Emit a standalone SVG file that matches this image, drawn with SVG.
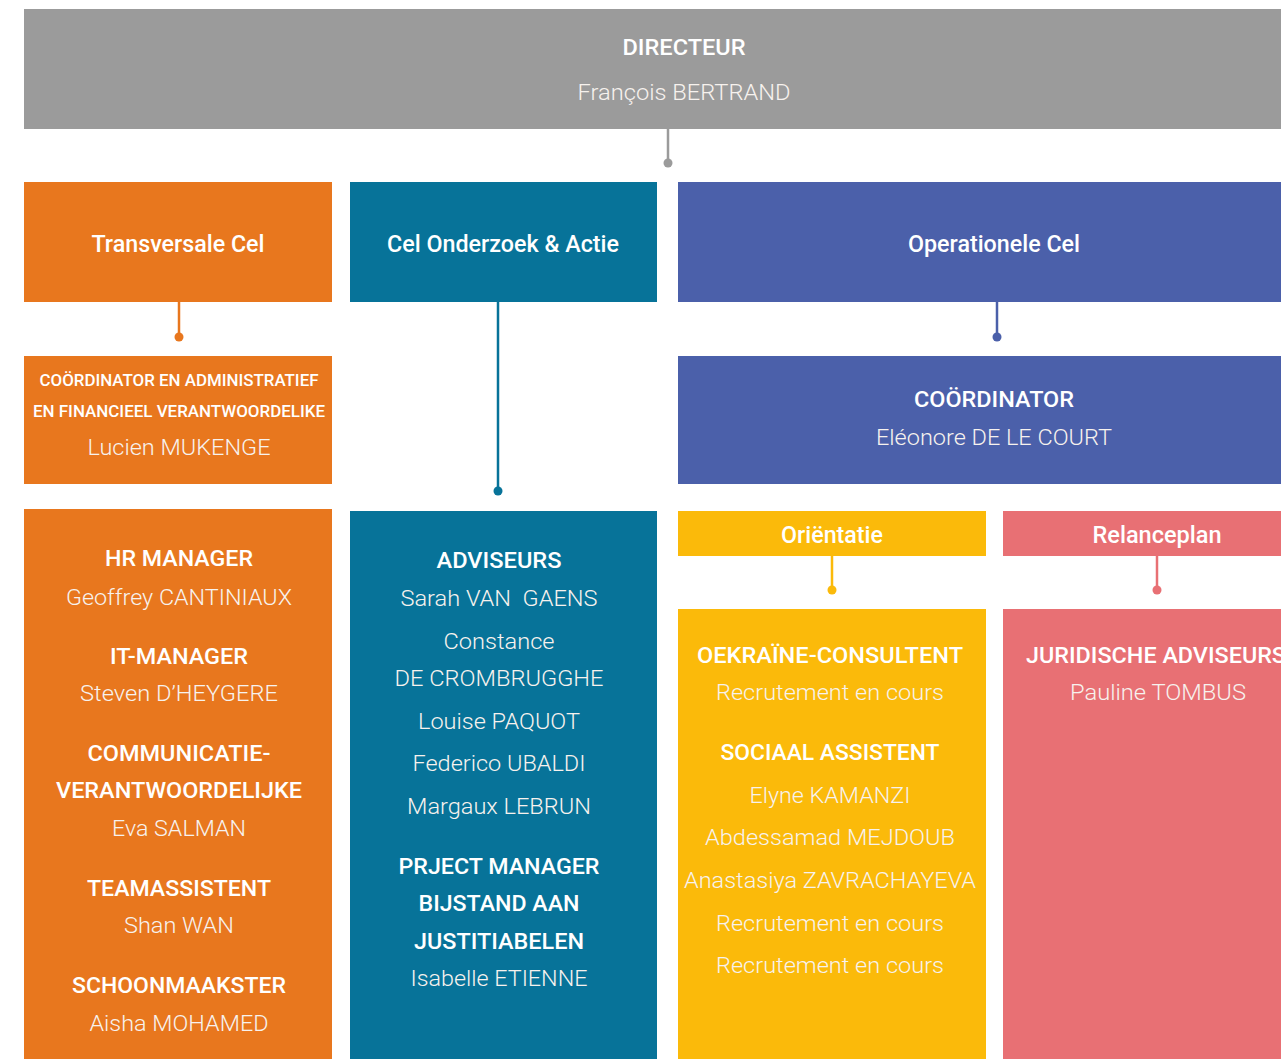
<svg xmlns="http://www.w3.org/2000/svg" width="1281" height="1059" viewBox="0 0 1281 1059">
<style>
text{font-family:Roboto,"Liberation Sans",sans-serif;text-anchor:middle;fill:#fff}
.t{font-size:22px;font-weight:500}
.n{font-size:22px;font-weight:300;fill:#f7f2ee}
.h{font-size:23px;font-weight:500}
.s{font-size:17px;font-weight:500}
.gray{fill:#9b9b9b}.or{fill:#e8771e}.te{fill:#077399}.bl{fill:#4b60aa}.ye{fill:#fbba0a}.pk{fill:#e87074}
</style>
<rect width="1281" height="1059" fill="#fff"/>
<g id="connectors" stroke-width="2.5">
<line x1="668" y1="129" x2="668" y2="162" stroke="#9b9b9b"/><circle cx="668" cy="163" r="4.5" fill="#9b9b9b"/>
<line x1="179" y1="302" x2="179" y2="336" stroke="#e8771e"/><circle cx="179" cy="337" r="4.5" fill="#e8771e"/>
<line x1="498" y1="302" x2="498" y2="490" stroke="#077399"/><circle cx="498" cy="491" r="4.5" fill="#077399"/>
<line x1="997" y1="302" x2="997" y2="336" stroke="#4b60aa"/><circle cx="997" cy="337" r="4.5" fill="#4b60aa"/>
<line x1="832" y1="556" x2="832" y2="589" stroke="#fbba0a"/><circle cx="832" cy="590" r="4.5" fill="#fbba0a"/>
<line x1="1157" y1="556" x2="1157" y2="589" stroke="#e87074"/><circle cx="1157" cy="590" r="4.5" fill="#e87074"/>
</g>
<g id="directeur">
<rect class="gray" x="24" y="9" width="1257" height="120"/>
<text class="t" x="684" y="55" textLength="123" lengthAdjust="spacingAndGlyphs">DIRECTEUR</text>
<text class="n" x="684" y="100" textLength="213" lengthAdjust="spacingAndGlyphs">François BERTRAND</text>
</g>
<g id="transversale">
<rect class="or" x="24" y="182" width="308" height="120"/>
<text class="h" x="178" y="252" textLength="173" lengthAdjust="spacingAndGlyphs">Transversale Cel</text>
</g>
<g id="onderzoek">
<rect class="te" x="350" y="182" width="307" height="120"/>
<text class="h" x="503" y="252" textLength="232" lengthAdjust="spacingAndGlyphs">Cel Onderzoek &amp; Actie</text>
</g>
<g id="operationele">
<rect class="bl" x="678" y="182" width="603" height="120"/>
<text class="h" x="994" y="252" textLength="172" lengthAdjust="spacingAndGlyphs">Operationele Cel</text>
</g>
<g id="coordinator-admin">
<rect class="or" x="24" y="356" width="308" height="128"/>
<text class="s" x="179" y="386" textLength="279" lengthAdjust="spacingAndGlyphs">COÖRDINATOR EN ADMINISTRATIEF</text>
<text class="s" x="179" y="417" textLength="292" lengthAdjust="spacingAndGlyphs">EN FINANCIEEL VERANTWOORDELIKE</text>
<text class="n" x="179" y="455" textLength="183" lengthAdjust="spacingAndGlyphs">Lucien MUKENGE</text>
</g>
<g id="coordinator">
<rect class="bl" x="678" y="356" width="603" height="128"/>
<text class="t" x="994" y="407" textLength="160" lengthAdjust="spacingAndGlyphs">COÖRDINATOR</text>
<text class="n" x="994" y="445" textLength="236" lengthAdjust="spacingAndGlyphs">Eléonore DE LE COURT</text>
</g>
<g id="transversale-staff">
<rect class="or" x="24" y="509" width="308" height="550"/>
<text class="t" x="179" y="566" textLength="148" lengthAdjust="spacingAndGlyphs">HR MANAGER</text>
<text class="n" x="179" y="605" textLength="226" lengthAdjust="spacingAndGlyphs">Geoffrey CANTINIAUX</text>
<text class="t" x="179" y="664" textLength="138" lengthAdjust="spacingAndGlyphs">IT-MANAGER</text>
<text class="n" x="179" y="701" textLength="198" lengthAdjust="spacingAndGlyphs">Steven D’HEYGERE</text>
<text class="t" x="179" y="761" textLength="183" lengthAdjust="spacingAndGlyphs">COMMUNICATIE-</text>
<text class="t" x="179" y="798" textLength="246" lengthAdjust="spacingAndGlyphs">VERANTWOORDELIJKE</text>
<text class="n" x="179" y="836" textLength="134" lengthAdjust="spacingAndGlyphs">Eva SALMAN</text>
<text class="t" x="179" y="896" textLength="184" lengthAdjust="spacingAndGlyphs">TEAMASSISTENT</text>
<text class="n" x="179" y="933" textLength="110" lengthAdjust="spacingAndGlyphs">Shan WAN</text>
<text class="t" x="179" y="993" textLength="214" lengthAdjust="spacingAndGlyphs">SCHOONMAAKSTER</text>
<text class="n" x="179" y="1031" textLength="179" lengthAdjust="spacingAndGlyphs">Aisha MOHAMED</text>
</g>
<g id="onderzoek-staff">
<rect class="te" x="350" y="511" width="307" height="548"/>
<text class="t" x="499" y="568" textLength="125" lengthAdjust="spacingAndGlyphs">ADVISEURS</text>
<text class="n" x="499" y="606" textLength="197" lengthAdjust="spacingAndGlyphs">Sarah VAN&#160; GAENS</text>
<text class="n" x="499" y="649" textLength="111" lengthAdjust="spacingAndGlyphs">Constance</text>
<text class="n" x="499" y="686" textLength="209" lengthAdjust="spacingAndGlyphs">DE CROMBRUGGHE</text>
<text class="n" x="499" y="729" textLength="162" lengthAdjust="spacingAndGlyphs">Louise PAQUOT</text>
<text class="n" x="499" y="771" textLength="173" lengthAdjust="spacingAndGlyphs">Federico UBALDI</text>
<text class="n" x="499" y="814" textLength="184" lengthAdjust="spacingAndGlyphs">Margaux LEBRUN</text>
<text class="t" x="499" y="874" textLength="201" lengthAdjust="spacingAndGlyphs">PRJECT MANAGER</text>
<text class="t" x="499" y="911" textLength="161" lengthAdjust="spacingAndGlyphs">BIJSTAND AAN</text>
<text class="t" x="499" y="949" textLength="170" lengthAdjust="spacingAndGlyphs">JUSTITIABELEN</text>
<text class="n" x="499" y="986" textLength="177" lengthAdjust="spacingAndGlyphs">Isabelle ETIENNE</text>
</g>
<g id="orientatie">
<rect class="ye" x="678" y="511" width="308" height="45"/>
<text class="h" x="832" y="543" textLength="102" lengthAdjust="spacingAndGlyphs">Oriëntatie</text>
</g>
<g id="relanceplan">
<rect class="pk" x="1003" y="511" width="278" height="45"/>
<text class="h" x="1157" y="543" textLength="129" lengthAdjust="spacingAndGlyphs">Relanceplan</text>
</g>
<g id="orientatie-staff">
<rect class="ye" x="678" y="609" width="308" height="450"/>
<text class="t" x="830" y="663" textLength="266" lengthAdjust="spacingAndGlyphs">OEKRAÏNE-CONSULTENT</text>
<text class="n" x="830" y="700" textLength="228" lengthAdjust="spacingAndGlyphs">Recrutement en cours</text>
<text class="t" x="830" y="760" textLength="219" lengthAdjust="spacingAndGlyphs">SOCIAAL ASSISTENT</text>
<text class="n" x="830" y="803" textLength="161" lengthAdjust="spacingAndGlyphs">Elyne KAMANZI</text>
<text class="n" x="830" y="845" textLength="250" lengthAdjust="spacingAndGlyphs">Abdessamad MEJDOUB</text>
<text class="n" x="830" y="888" textLength="292" lengthAdjust="spacingAndGlyphs">Anastasiya ZAVRACHAYEVA</text>
<text class="n" x="830" y="931" textLength="228" lengthAdjust="spacingAndGlyphs">Recrutement en cours</text>
<text class="n" x="830" y="973" textLength="228" lengthAdjust="spacingAndGlyphs">Recrutement en cours</text>
</g>
<g id="relanceplan-staff">
<rect class="pk" x="1003" y="609" width="278" height="450"/>
<text class="t" x="1026" y="663" style="text-anchor:start" textLength="260" lengthAdjust="spacingAndGlyphs">JURIDISCHE ADVISEURS</text>
<text class="n" x="1158" y="700" textLength="176" lengthAdjust="spacingAndGlyphs">Pauline TOMBUS</text>
</g>
</svg>
